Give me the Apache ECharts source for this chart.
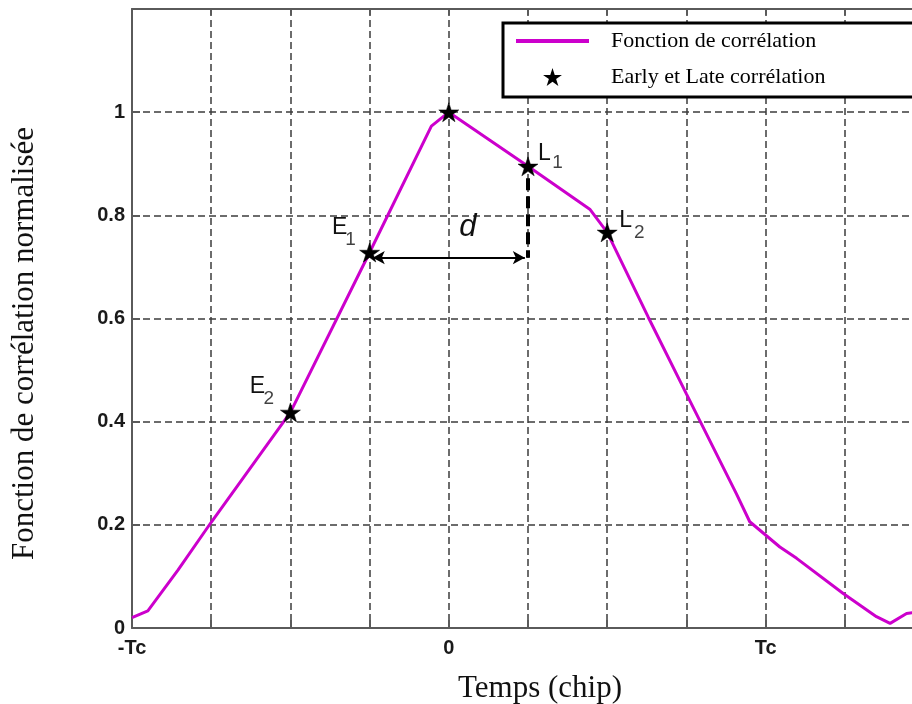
<!DOCTYPE html>
<html><head><meta charset="utf-8">
<script src="https://cdn.jsdelivr.net/npm/echarts@6/dist/echarts.min.js"></script>
<style>html,body{margin:0;padding:0;background:#fff}#c{width:912px;height:704px}</style>
</head><body><div id="c"></div>
<script>
// Correlation curve (x in chips, Tc units)
const curveX = [-1.0, -0.95, -0.855, -0.75, -0.5, -0.25, -0.055, 0, 0.25, 0.445, 0.5, 0.63, 0.75, 0.908, 0.95, 1.045, 1.098, 1.245, 1.35, 1.393, 1.445, 1.47];
const curveY = [0.02, 0.033, 0.112, 0.205, 0.418, 0.728, 0.973, 1.0, 0.895, 0.812, 0.767, 0.602, 0.454, 0.26, 0.206, 0.157, 0.135, 0.067, 0.022, 0.009, 0.028, 0.03];
// Early / Late correlator markers
const markerX = [-0.5, -0.25, 0, 0.25, 0.5];
const markerY = [0.418, 0.728, 1.0, 0.895, 0.767];
const markerLetter = ['E', 'E', '', 'L', 'L'];
const markerIndex = ['2', '1', '', '1', '2'];
// Annotations
const arrowY = 0.718;
const arrowX = [-0.24, 0.24];
const dashX = 0.25;
const dashY = [0.872, 0.718];
const dLabelPos = [0.06, 0.776];
const dLabel = 'd';
// Tick labels
const xTickText = { '-1': '-Tc', '0': '0', '1': 'Tc' };
const yTickValues = [0, 0.2, 0.4, 0.6, 0.8, 1];

const seriesNames = ['Fonction de corrélation', 'Early et Late corrélation'];
const xTitle = 'Temps (chip)';
const yTitle = 'Fonction de corrélation normalisée';

const starPath = 'path://M50 0 L61.23 34.55 L97.55 34.55 L68.17 55.9 L79.39 90.45 L50 69.1 L20.61 90.45 L31.83 55.9 L2.45 34.55 L38.77 34.55 Z';
const lineIconPath = 'path://M0 0 L73 0 L73 4 L0 4 Z';

// label offsets (pixels from star centre): letter and subscript
const letterOffset = [[-33, -26], [-30, -25], null, [16.5, -12.5], [18.5, -11.5]];
const indexOffset = [[-21.5, -14], [-19, -13], null, [29.5, -4], [32, 0.5]];

const labelBase = { show: true, position: 'inside', fontFamily: 'Liberation Sans', color: '#111' };

const letterData = markerX.map((x, i) => ({
  value: [x, markerY[i]],
  label: letterOffset[i] ? Object.assign({}, labelBase, { formatter: markerLetter[i], fontSize: 23, offset: letterOffset[i] }) : { show: false }
}));
const indexData = markerX.map((x, i) => ({
  value: [x, markerY[i]],
  label: indexOffset[i] ? Object.assign({}, labelBase, { formatter: markerIndex[i], fontSize: 19, offset: indexOffset[i] }) : { show: false }
}));

const gridColor = '#3c3c3c';
const axisColor = '#5a5a5a';
const tickFont = { fontFamily: 'Liberation Sans', fontSize: 20, fontWeight: 'bold', color: '#1a1a1a' };

const chart = echarts.init(document.getElementById('c'), null, { renderer: 'canvas' });
chart.setOption({
  animation: false,
  backgroundColor: '#fff',
  grid: { left: 132, top: 9, width: 792, height: 619, containLabel: false, outerBoundsMode: 'none' },
  legend: {
    orient: 'vertical', left: 503, top: 23,
    backgroundColor: '#fff', borderColor: '#000', borderWidth: 3, borderRadius: 0,
    padding: [7, 120, 9, 13],
    itemWidth: 73, itemHeight: 18, itemGap: 14,
    selectedMode: false,
    textStyle: { fontFamily: 'Liberation Serif', fontSize: 22, lineHeight: 22, color: '#000', padding: [0, 0, 0, 17] },
    data: [
      { name: seriesNames[0], icon: lineIconPath, itemStyle: { color: '#cc00cc', borderWidth: 0 } },
      { name: seriesNames[1], icon: starPath, itemStyle: { color: '#000', borderColor: '#000', borderWidth: 0 } }
    ],
    z: 10
  },
  xAxis: [{
    type: 'value', min: -1, max: 1.5, interval: 0.25, position: 'bottom',
    axisLine: { show: true, onZero: false, lineStyle: { color: axisColor, width: 2 } },
    axisTick: { show: true, inside: true, length: 8, lineStyle: { color: axisColor, width: 2 } },
    axisLabel: Object.assign({ margin: 10, showMaxLabel: false, formatter: v => (xTickText[String(v)] || '') }, tickFont),
    splitLine: { show: true, lineStyle: { color: gridColor, width: 1.5, type: [7, 4] } },
    name: xTitle, nameLocation: 'middle', nameGap: 45,
    nameTextStyle: { fontFamily: 'Liberation Serif', fontSize: 31, color: '#111', padding: [0, 0, 0, 24] }
  }, {
    type: 'value', min: -1, max: 1.5, interval: 0.25, position: 'top',
    axisLine: { show: true, onZero: false, lineStyle: { color: axisColor, width: 2 } },
    axisTick: { show: true, inside: true, length: 6, lineStyle: { color: axisColor, width: 2 } },
    axisLabel: { show: false },
    splitLine: { show: false }
  }],
  yAxis: {
    type: 'value', min: 0, max: 1.2, interval: 0.2,
    axisLine: { show: true, onZero: false, lineStyle: { color: axisColor, width: 2 } },
    axisTick: { show: true, inside: true, length: 8, lineStyle: { color: axisColor, width: 2 } },
    axisLabel: Object.assign({ margin: 7, formatter: v => {
      const r = Math.round(v * 10) / 10;
      return yTickValues.indexOf(r) >= 0 ? String(r) : '';
    } }, tickFont),
    splitLine: { show: true, lineStyle: { color: gridColor, width: 1.5, type: [7, 4] } },
    name: yTitle, nameLocation: 'middle', nameGap: 92,
    nameTextStyle: { fontFamily: 'Liberation Serif', fontSize: 31, color: '#111', padding: [0, 50, 0, 0] }
  },
  series: [{
    name: seriesNames[0], type: 'line', xAxisIndex: 0,
    data: curveX.map((x, i) => [x, curveY[i]]),
    symbol: 'none', smooth: false,
    lineStyle: { color: '#cc00cc', width: 3 },
    itemStyle: { color: '#cc00cc' },
    z: 2,
    markLine: {
      silent: true, symbol: ['none', 'none'],
      label: { show: false },
      emphasis: { disabled: true },
      data: [
        [{ coord: [arrowX[0], arrowY], symbol: 'arrow', symbolSize: [10, 12], lineStyle: { color: '#000', width: 2, type: 'solid' } },
         { coord: [arrowX[1], arrowY], symbol: 'arrow', symbolSize: [10, 12] }],
        [{ coord: [dashX, dashY[0]], symbol: 'none', lineStyle: { color: '#000', width: 4, type: [12, 6] } },
         { coord: [dashX, dashY[1]], symbol: 'none' }]
      ]
    },
    markPoint: {
      silent: true,
      data: [{
        coord: dLabelPos, symbol: 'circle', symbolSize: 1,
        itemStyle: { color: 'rgba(0,0,0,0)' },
        label: { show: true, position: 'inside', formatter: dLabel, fontSize: 31, fontStyle: 'italic', fontFamily: 'Liberation Sans', color: '#111' }
      }]
    }
  }, {
    name: seriesNames[1], type: 'scatter', xAxisIndex: 0,
    data: letterData,
    symbol: starPath, symbolSize: 20, symbolKeepAspect: true,
    itemStyle: { color: '#000', borderColor: '#000', borderWidth: 0.5, opacity: 1 },
    z: 3
  }, {
    name: 'subscripts', type: 'scatter', xAxisIndex: 0,
    data: indexData, silent: true,
    symbol: 'circle', symbolSize: 2,
    itemStyle: { color: 'rgba(0,0,0,0)' },
    z: 4
  }]
});
</script>
</body></html>
